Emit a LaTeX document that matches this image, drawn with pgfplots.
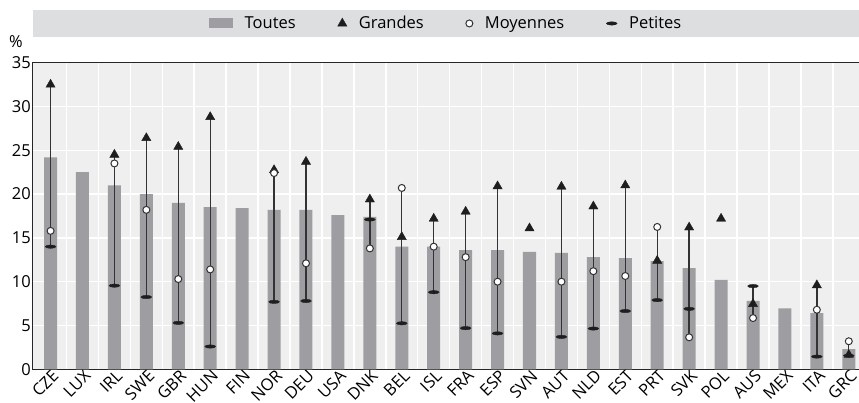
\documentclass[border=0pt]{standalone}
\usepackage{fontspec}
\setmainfont{Open Sans}
\usepackage{pgfplots}
\pgfplotsset{compat=1.18}
\definecolor{bargray}{HTML}{9E9EA2}
\definecolor{plotbg}{HTML}{EFEFEF}
\definecolor{bandgray}{HTML}{DDDEDF}
\definecolor{rangeline}{HTML}{333333}
\definecolor{markdark}{HTML}{1E1E1E}

\begin{document}
\fontsize{16.5}{19}\selectfont
\begin{tikzpicture}
\begin{axis}[
    scale only axis,
    width=826pt, height=306.6pt,
    xmin=-0.55, xmax=25.32,
    ymin=0, ymax=35,
    ytick={0,5,...,35},
    xtick=data,
    xticklabels={CZE,LUX,IRL,SWE,GBR,HUN,FIN,NOR,DEU,USA,DNK,BEL,ISL,FRA,ESP,SVN,AUT,NLD,EST,PRT,SVK,POL,AUS,MEX,ITA,GRC},
    tick label style={font=\fontsize{16.5}{19}\selectfont},
    xticklabel style={rotate=45, anchor=north east, inner sep=1pt, xshift=2pt, yshift=1pt},
    yticklabel style={inner sep=2pt},
    minor xtick={0.5,1.5,...,24.5},
    xminorgrids=true, ymajorgrids=true,
    grid style={white, line width=1.5pt},
    minor grid style={white, line width=1.5pt},
    major tick length=0pt, minor tick length=0pt,
    axis background/.style={fill=plotbg},
    axis line style={draw=black!85, line width=1pt},
    /pgf/number format/assume math mode=true,
    clip=false,
    unbounded coords=jump,
    legend columns=-1,
    legend style={at={(rel axis cs:0.5,1.128)}, anchor=center, draw=none, fill=none,
        font=\fontsize{16.5}{19}\selectfont,
        /tikz/every odd column/.append style={column sep=10pt},
        /tikz/every even column/.append style={column sep=40pt}},
]
\fill[bandgray] (rel axis cs:0,1.0838) rectangle (rel axis cs:1.001,1.172);
\node at (rel axis cs:0,1) [xshift=-17pt, yshift=21pt] {\%};

% Toutes
\addplot[ybar, bar width=13pt, fill=bargray, draw=none,
    legend image code/.code={\fill[bargray] (0pt,-5pt) rectangle (24pt,5pt);}]
coordinates {
(0,24.2) (1,22.5) (2,21.0) (3,20.0) (4,19.0) (5,18.5) (6,18.4) (7,18.2) (8,18.2)
(9,17.6) (10,17.4) (11,14.0) (12,14.0) (13,13.6) (14,13.6) (15,13.4) (16,13.3)
(17,12.8) (18,12.7) (19,12.35) (20,11.55) (21,10.2) (22,7.8) (23,6.95) (24,6.4) (25,2.3)};
\addlegendentry{Toutes}

% min-max range
\addplot[forget plot, no marks, rangeline, line width=1.4pt] coordinates {
(0,14.0) (0,32.5) (0,nan)
(2,9.55) (2,24.5) (2,nan)
(3,8.25) (3,26.4) (3,nan)
(4,5.3) (4,25.4) (4,nan)
(5,2.6) (5,28.8) (5,nan)
(7,7.7) (7,22.75) (7,nan)
(8,7.8) (8,23.7) (8,nan)
(10,13.8) (10,19.4) (10,nan)
(11,5.25) (11,20.7) (11,nan)
(12,8.8) (12,17.2) (12,nan)
(13,4.7) (13,18.0) (13,nan)
(14,4.1) (14,20.9) (14,nan)
(16,3.7) (16,20.85) (16,nan)
(17,4.65) (17,18.6) (17,nan)
(18,6.65) (18,21.0) (18,nan)
(19,7.9) (19,16.25) (19,nan)
(20,3.65) (20,16.2) (20,nan)
(22,5.85) (22,9.5) (22,nan)
(24,1.45) (24,9.6) (24,nan)
(25,1.55) (25,3.2)};

% Grandes
\addplot[only marks, mark=triangle*, mark size=5.3pt, markdark, mark options={fill=markdark, draw=markdark}]
coordinates {
(0,32.5) (2,24.5) (3,26.4) (4,25.4) (5,28.8) (7,22.75) (8,23.7) (10,19.4) (11,15.1)
(12,17.2) (13,18.0) (14,20.9) (15,16.1) (16,20.85) (17,18.6) (18,21.0) (19,12.4)
(20,16.2) (21,17.2) (22,7.45) (24,9.6) (25,1.65)};
\addlegendentry{Grandes}

% Moyennes
\addplot[only marks, mark=*, mark size=3.5pt, mark options={fill=white, draw=rangeline, line width=1pt}]
coordinates {
(0,15.8) (2,23.5) (3,18.2) (4,10.3) (5,11.4) (7,22.4) (8,12.1) (10,13.8) (11,20.7)
(12,14.0) (13,12.8) (14,10.0) (16,10.0) (17,11.2) (18,10.65) (19,16.25) (20,3.65)
(22,5.85) (24,6.8) (25,3.2)};
\addlegendentry{Moyennes}

% Petites
\addplot[only marks, mark=*, mark size=2pt, markdark, mark options={fill=markdark, draw=none, xscale=2.7, yscale=0.85}]
coordinates {
(0,14.0) (2,9.55) (3,8.25) (4,5.3) (5,2.6) (7,7.7) (8,7.8) (10,17.1) (11,5.25)
(12,8.8) (13,4.7) (14,4.1) (16,3.7) (17,4.65) (18,6.65) (19,7.9) (20,6.9) (22,9.5)
(24,1.45) (25,1.55)};
\addlegendentry{Petites}
\end{axis}
\pgfresetboundingbox
\path[use as bounding box] ([xshift=-33pt,yshift=-33.7pt]current axis.south west)
    rectangle ([yshift=62.7pt]current axis.north east);
\end{tikzpicture}
\end{document}
